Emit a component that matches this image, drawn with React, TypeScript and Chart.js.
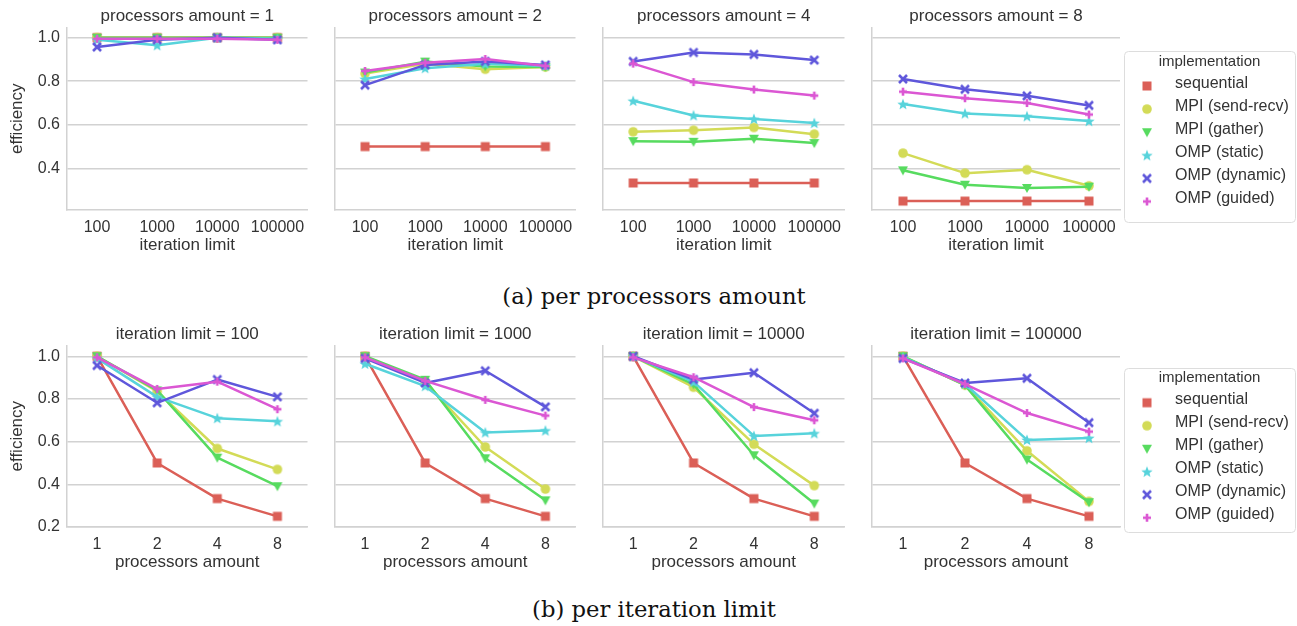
import React, { useEffect, useRef } from 'react';
import { Chart, registerables } from 'chart.js';

Chart.register(...registerables);

// ---------- data ----------
const implementations = [
  'sequential',
  'MPI (send-recv)',
  'MPI (gather)',
  'OMP (static)',
  'OMP (dynamic)',
  'OMP (guided)',
];
const processorsAmounts = ['1', '2', '4', '8'];
const iterationLimits = ['100', '1000', '10000', '100000'];
const yTickValues = [0.2, 0.4, 0.6, 0.8, 1.0];

// efficiency: rows = processors amount (1, 2, 4, 8), columns = iteration limit (100 .. 100000)
const sequential = [
  [1.0, 1.0, 1.0, 1.0],
  [0.5, 0.5, 0.5, 0.5],
  [0.333, 0.333, 0.333, 0.333],
  [0.25, 0.25, 0.25, 0.25],
];
const mpiSendRecv = [
  [1.0, 1.0, 1.0, 1.0],
  [0.835, 0.88, 0.855, 0.865],
  [0.568, 0.575, 0.588, 0.557],
  [0.47, 0.378, 0.394, 0.32],
];
const mpiGather = [
  [1.0, 1.0, 1.0, 1.0],
  [0.84, 0.89, 0.868, 0.865],
  [0.525, 0.522, 0.536, 0.516],
  [0.391, 0.325, 0.31, 0.316],
];
const ompStatic = [
  [0.99, 0.965, 1.0, 0.995],
  [0.81, 0.86, 0.88, 0.87],
  [0.71, 0.643, 0.627, 0.608],
  [0.695, 0.652, 0.639, 0.617],
];
const ompDynamic = [
  [0.957, 0.99, 1.0, 0.99],
  [0.782, 0.875, 0.891, 0.875],
  [0.891, 0.932, 0.923, 0.897],
  [0.81, 0.763, 0.733, 0.689],
];
const ompGuided = [
  [0.995, 0.995, 0.995, 0.99],
  [0.847, 0.885, 0.902, 0.87],
  [0.881, 0.796, 0.762, 0.734],
  [0.752, 0.722, 0.7, 0.647],
];

const seriesByImpl = [sequential, mpiSendRecv, mpiGather, ompStatic, ompDynamic, ompGuided];

// ---------- styles ----------
const colors = ['#db5f57', '#d3db57', '#57db5f', '#57d3db', '#5f57db', '#db57d3'];
const markerKinds = ['square', 'circle', 'triangleDown', 'star', 'x', 'plus'];
const TEXT = '#333333';
const GRID = '#d2d2d2';
const FONT = "'Liberation Sans', Arial, Helvetica, sans-serif";

Chart.defaults.font.family = FONT;
Chart.defaults.color = TEXT;

const PAGE_W = 1297;
const PAGE_H = 626;
const PANEL_SPINES = [67, 335, 603, 872];
const PANEL_RIGHTS = [315, 583, 852, 1120];
const Y_AXIS_W = 67;
const X_AXIS_H = 50;

type LegendCfg = { top: number; bottom: number; titleY: number; firstY: number; step: number };
type RowCfg = { canvasTop: number; height: number; yMin: number; yMax: number; legend: LegendCfg };

const ROWS: Record<'a' | 'b', RowCfg> = {
  a: {
    canvasTop: 0,
    height: 260,
    yMin: 0.209,
    yMax: 1.047,
    legend: { top: 51, bottom: 222, titleY: 61.5, firstY: 86, step: 23.1 },
  },
  b: {
    canvasTop: 318,
    height: 259,
    yMin: 0.2,
    yMax: 1.051,
    legend: { top: 368, bottom: 532, titleY: 378, firstY: 402.7, step: 23 },
  },
};

const markerCache: Record<string, HTMLCanvasElement> = {};
function markerImage(kind: string, color: string): HTMLCanvasElement {
  const key = kind + color;
  if (markerCache[key]) return markerCache[key];
  const s = 14;
  const c = s / 2;
  const cv = document.createElement('canvas');
  cv.width = s;
  cv.height = s;
  const g = cv.getContext('2d')!;
  g.fillStyle = color;
  g.strokeStyle = color;
  switch (kind) {
    case 'square':
      g.fillRect(c - 4.5, c - 4.5, 9, 9);
      break;
    case 'circle':
      g.beginPath();
      g.arc(c, c, 4.8, 0, Math.PI * 2);
      g.fill();
      break;
    case 'triangleDown':
      g.beginPath();
      g.moveTo(c - 5, c - 4);
      g.lineTo(c + 5, c - 4);
      g.lineTo(c, c + 5);
      g.closePath();
      g.fill();
      break;
    case 'star': {
      g.beginPath();
      for (let i = 0; i < 10; i++) {
        const r = i % 2 === 0 ? 6 : 2.6;
        const a = -Math.PI / 2 + (i * Math.PI) / 5;
        const px = c + r * Math.cos(a);
        const py = c + 0.5 + r * Math.sin(a);
        if (i === 0) g.moveTo(px, py);
        else g.lineTo(px, py);
      }
      g.closePath();
      g.fill();
      break;
    }
    case 'x':
      g.lineWidth = 2.6;
      g.beginPath();
      g.moveTo(c - 4, c - 4);
      g.lineTo(c + 4, c + 4);
      g.moveTo(c + 4, c - 4);
      g.lineTo(c - 4, c + 4);
      g.stroke();
      break;
    case 'plus':
      g.fillRect(c - 4, c - 1.3, 8, 2.6);
      g.fillRect(c - 1.3, c - 4, 2.6, 8);
      break;
  }
  markerCache[key] = cv;
  return cv;
}

function legendPlugin(cfg: LegendCfg, canvasLeft: number, canvasTop: number) {
  return {
    id: 'facetLegend',
    afterDraw(chart: any) {
      const ctx = chart.ctx as CanvasRenderingContext2D;
      const L = 1124 - canvasLeft;
      const R = 1295 - canvasLeft;
      const T = cfg.top - canvasTop;
      const B = cfg.bottom - canvasTop;
      ctx.save();
      ctx.beginPath();
      if ((ctx as any).roundRect) (ctx as any).roundRect(L + 0.5, T + 0.5, R - L, B - T, 4);
      else ctx.rect(L + 0.5, T + 0.5, R - L, B - T);
      ctx.fillStyle = 'rgba(255,255,255,0.85)';
      ctx.fill();
      ctx.strokeStyle = '#dddddd';
      ctx.lineWidth = 1;
      ctx.stroke();
      ctx.fillStyle = TEXT;
      ctx.textBaseline = 'middle';
      ctx.textAlign = 'center';
      ctx.font = `15px ${FONT}`;
      ctx.fillText('implementation', (L + R) / 2, cfg.titleY - canvasTop);
      ctx.textAlign = 'left';
      ctx.font = `16px ${FONT}`;
      implementations.forEach((name, i) => {
        const y = cfg.firstY + i * cfg.step - canvasTop;
        const img = markerImage(markerKinds[i], colors[i]);
        ctx.drawImage(img, 1147 - canvasLeft - img.width / 2, y - img.height / 2);
        ctx.fillText(name, 1175 - canvasLeft, y - 2.8);
      });
      ctx.restore();
    },
  };
}

function Panel({ row, k }: { row: 'a' | 'b'; k: number }) {
  const ref = useRef<HTMLCanvasElement>(null);
  const cfg = ROWS[row];
  const left = PANEL_SPINES[k] - Y_AXIS_W;
  const isLast = k === 3;
  const width = isLast ? PAGE_W - left : PANEL_RIGHTS[k] - left;
  const padRight = isLast ? PAGE_W - PANEL_RIGHTS[k] : 0;

  useEffect(() => {
    const canvas = ref.current;
    if (!canvas) return;
    const labels = row === 'a' ? iterationLimits : processorsAmounts;
    const title =
      row === 'a' ? `processors amount = ${processorsAmounts[k]}` : `iteration limit = ${iterationLimits[k]}`;
    const xTitle = row === 'a' ? 'iteration limit' : 'processors amount';
    const datasets = seriesByImpl.map((series, i) => ({
      label: implementations[i],
      data: row === 'a' ? series[k] : series.map((r) => r[k]),
      borderColor: colors[i],
      backgroundColor: colors[i],
      borderWidth: 2.5,
      borderJoinStyle: 'round' as const,
      borderCapStyle: 'round' as const,
      pointStyle: markerImage(markerKinds[i], colors[i]) as any,
      pointRadius: 5,
      pointHoverRadius: 5,
      fill: false,
      tension: 0,
      order: implementations.length - i,
    }));
    const chart = new Chart(canvas, {
      type: 'line',
      data: { labels, datasets },
      options: {
        animation: false,
        responsive: false,
        devicePixelRatio: 1,
        events: [],
        layout: { padding: { left: 0, right: padRight, top: 0, bottom: 0 } },
        plugins: {
          legend: { display: false },
          tooltip: { enabled: false },
          title: {
            display: true,
            text: title,
            fullSize: false,
            color: TEXT,
            font: { size: 17, weight: 'normal' },
            padding: { top: 6, bottom: 1 },
          },
        },
        scales: {
          x: {
            type: 'category',
            offset: true,
            grid: { display: false, drawTicks: false },
            border: { display: true, color: GRID, width: 1.5 },
            ticks: { color: TEXT, font: { size: 16 }, padding: 8, maxRotation: 0, autoSkip: false },
            title: {
              display: true,
              text: xTitle,
              color: TEXT,
              font: { size: 17 },
              padding: { top: 0, bottom: 4 },
            },
            afterFit: (s: any) => {
              s.height = X_AXIS_H;
              s.paddingLeft = 0;
              s.paddingRight = 0;
            },
          },
          y: {
            type: 'linear',
            min: cfg.yMin,
            max: cfg.yMax,
            afterBuildTicks: (s: any) => {
              s.ticks = yTickValues
                .filter((v) => v >= s.min - 1e-9 && v <= s.max + 1e-9)
                .map((v) => ({ value: v }));
            },
            grid: { color: GRID, lineWidth: 1.5, drawTicks: false },
            border: { display: true, color: GRID, width: 1.5 },
            ticks: {
              display: k === 0,
              color: TEXT,
              font: { size: 16 },
              padding: 7,
              callback: (v: any) => Number(v).toFixed(1),
            },
            title: {
              display: k === 0,
              text: 'efficiency',
              color: TEXT,
              font: { size: 17 },
              padding: { top: 7, bottom: 0 },
            },
            afterFit: (s: any) => {
              s.width = Y_AXIS_W;
              s.paddingTop = 0;
              s.paddingBottom = 0;
            },
          },
        },
      } as any,
      plugins: isLast ? [legendPlugin(cfg.legend, left, cfg.canvasTop)] : [],
    });
    return () => chart.destroy();
  }, [row, k]);

  return (
    <canvas
      ref={ref}
      width={width}
      height={cfg.height}
      style={{ position: 'absolute', left, top: cfg.canvasTop, width, height: cfg.height }}
    />
  );
}

const captionStyle: React.CSSProperties = {
  position: 'absolute',
  left: 0,
  width: 1308,
  height: 30,
  lineHeight: '30px',
  textAlign: 'center',
  fontFamily: "'DejaVu Serif', 'Liberation Serif', serif",
  fontSize: 22.7,
  color: '#111',
  whiteSpace: 'nowrap',
};

export default function App() {
  return (
    <div
      style={{
        position: 'fixed',
        left: 0,
        top: 0,
        width: PAGE_W,
        height: PAGE_H,
        background: '#ffffff',
        overflow: 'hidden',
      }}
    >
      {[0, 1, 2, 3].map((k) => (
        <Panel key={`a${k}`} row="a" k={k} />
      ))}
      {[0, 1, 2, 3].map((k) => (
        <Panel key={`b${k}`} row="b" k={k} />
      ))}
      <div style={{ ...captionStyle, top: 281 }}>(a) per processors amount</div>
      <div style={{ ...captionStyle, top: 594 }}>(b) per iteration limit</div>
    </div>
  );
}
